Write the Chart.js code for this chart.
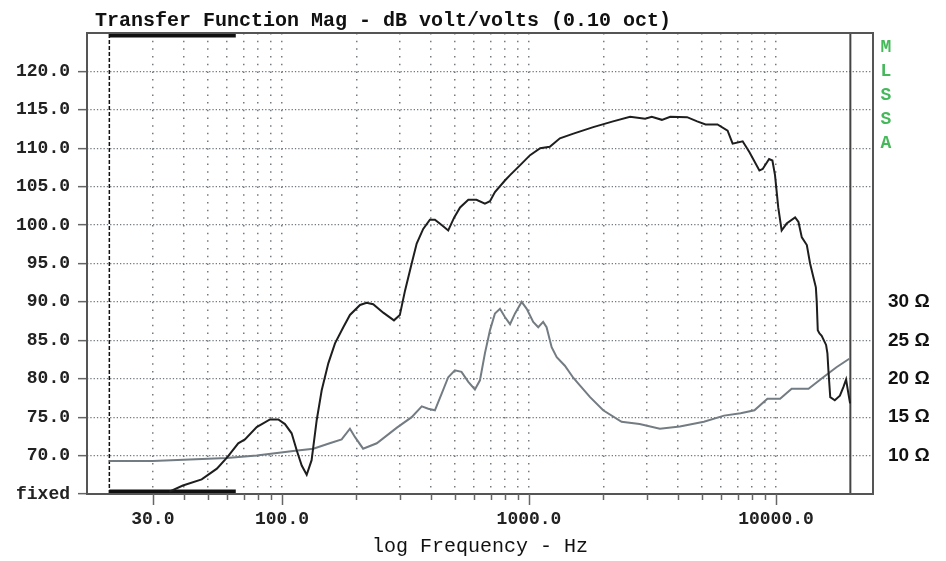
<!DOCTYPE html>
<html>

<head>
    <title>Transfer Function Mag</title>
    <style>
        body { margin: 0; background: #fff; }
        canvas { display: block; }
    </style>
</head>

<body>
    <canvas id="myChart" width="946" height="561"></canvas>
    <script src="https://cdn.jsdelivr.net/npm/chart.js@4.4.1/dist/chart.umd.min.js"></script>
    <script type="text/javascript">
        // transfer function magnitude (black), Hz / dB
        const splFreq = [35, 39.7, 47.3, 54.5, 60.1, 66.5, 70.8, 79, 89.4, 96.6, 102.8, 109.4, 114.7, 120.2, 125.9, 131.8,
            138.2, 144.8, 154, 163.9, 177.1, 188.4, 207, 220, 234, 257, 284, 300, 315, 335, 351, 373, 397, 416, 443, 471,
            498, 526, 568, 613, 663, 695, 728, 799, 838, 921, 1010, 1110, 1214, 1334, 1513, 1820, 2189, 2566, 2953, 3140,
            3451, 3733, 4366, 4796, 5187, 5795, 6368, 6675, 7328, 7800, 8565, 8832, 9377, 9670, 9908, 10211, 10540, 11043,
            11951, 12330, 12720, 13330, 13740, 14170, 14500, 14620, 14760, 15000, 15310, 15950, 16150, 16300, 16580, 17300,
            18140, 18740, 19220, 19630, 19950];
        const splDb = [65.3, 66.1, 66.9, 68.3, 69.8, 71.6, 72.1, 73.7, 74.7, 74.7, 74.1, 72.9, 70.7, 68.7, 67.5, 69.4,
            74.6, 78.5, 82.0, 84.6, 86.7, 88.3, 89.6, 89.9, 89.7, 88.6, 87.6, 88.3, 91.5, 95.0, 97.6, 99.5, 100.7, 100.7, 100.0, 99.3,
            101.0, 102.3, 103.3, 103.3, 102.8, 103.1, 104.3, 105.8, 106.5, 107.8, 109.1, 110.0, 110.2, 111.3, 111.9, 112.75, 113.5, 114.1, 113.85, 114.1,
            113.7, 114.1, 114.05, 113.5, 113.1, 113.1, 112.3, 110.6, 110.9, 109.5, 107.1, 107.3, 108.6, 108.4, 106.5, 102.3, 99.3, 100.2,
            101.0, 100.4, 98.4, 97.4, 95.0, 93.2, 91.9, 90.0, 86.3, 85.9, 85.6, 84.4, 83.3, 81.1, 77.6, 77.2,
            77.8, 78.9, 79.9, 78.1, 76.8];

        // impedance (grey), Hz / ohm
        const impFreq = [20, 30, 42.4, 59.7, 79, 111, 133.9, 156, 174.4, 188.4, 197.6, 213, 242, 291, 335, 368, 391, 416,
            443.5, 471, 501, 533, 568, 604, 633, 663, 695, 728, 763, 800, 838, 878, 934, 979, 1040, 1090, 1141, 1178,
            1235, 1295, 1397, 1513, 1610, 1767, 1997, 2370, 2804, 3387, 4079, 5105, 6160, 7190, 8180, 9230, 10390,
            11570, 13540, 15540, 17570, 19800];
        const impOhm = [9.3, 9.3, 9.5, 9.7, 10.0, 10.6, 10.9, 11.6, 12.1, 13.5, 12.4, 10.9, 11.6, 13.6, 15.0, 16.4, 16.1, 15.9,
            18.1, 20.2, 21.1, 20.9, 19.6, 18.6, 19.8, 23.3, 26.3, 28.5, 29.1, 28.0, 27.1, 28.5, 30.0, 29.1, 27.4, 26.7, 27.4, 26.7,
            24.1, 22.8, 21.7, 20.1, 19.1, 17.6, 15.9, 14.4, 14.1, 13.5, 13.8, 14.4, 15.2, 15.5, 15.9, 17.4, 17.4,
            18.7, 18.7, 20.2, 21.5, 22.6];

        // axes
        const xTicks = [30, 40, 50, 60, 70, 80, 90, 100, 200, 300, 400, 500, 600, 700, 800, 900,
            1000, 2000, 3000, 4000, 5000, 6000, 7000, 8000, 9000, 10000];
        const xLabelled = [30, 100, 1000, 10000];
        const dbTicks = [65, 70, 75, 80, 85, 90, 95, 100, 105, 110, 115, 120];
        const ohmTicks = [10, 15, 20, 25, 30];
        const fixedBand = [20, 65];   // Hz, the thick bars top and bottom
        const cursorFreq = 20;        // dashed line
        const endFreq = 20000;        // solid line

        const pts = (xs, ys) => xs.map((v, i) => ({ x: v, y: ys[i] }));
        const setTicks = vals => scale => { scale.ticks = vals.map(v => ({ value: v })); };

        const gridGrey = '#737b80';
        const monoBold = { family: '"Liberation Mono", "DejaVu Sans Mono", monospace', size: 18, weight: 'bold' };

        const decor = {
            id: 'decor',
            beforeDraw(chart) {
                const ctx = chart.ctx;
                ctx.save();
                ctx.fillStyle = '#fff';
                ctx.fillRect(0, 0, chart.width, chart.height);
                ctx.restore();
            },
            afterDraw(chart) {
                const { ctx, chartArea: a, scales } = chart;
                ctx.save();
                // frame
                ctx.strokeStyle = '#555';
                ctx.lineWidth = 2;
                ctx.strokeRect(a.left, a.top, a.right - a.left, a.bottom - a.top);
                // x tick marks
                ctx.strokeStyle = '#666';
                ctx.lineWidth = 1.5;
                scales.x.ticks.forEach(t => {
                    const px = Math.round(scales.x.getPixelForValue(t.value)) + 0.5;
                    const len = xLabelled.includes(t.value) ? 11 : 6;
                    ctx.beginPath();
                    ctx.moveTo(px, a.bottom);
                    ctx.lineTo(px, a.bottom + len);
                    ctx.stroke();
                });
                // title
                ctx.fillStyle = '#111';
                ctx.font = 'bold 20px "Liberation Mono", monospace';
                ctx.textBaseline = 'alphabetic';
                ctx.textAlign = 'left';
                ctx.fillText('Transfer Function Mag - dB volt/volts (0.10 oct)', 95, 26);
                // MLSSA
                ctx.fillStyle = '#45b85a';
                ctx.font = 'bold 18px "Liberation Mono", monospace';
                ctx.textAlign = 'center';
                ctx.textBaseline = 'middle';
                'MLSSA'.split('').forEach((c, i) => ctx.fillText(c, 886, 47 + i * 24.2));
                ctx.restore();
            }
        };

        const ctx = document.getElementById('myChart').getContext('2d');
        const chart = new Chart(ctx, {
            type: 'line',
            data: {
                datasets: [{
                    data: pts(splFreq, splDb),
                    borderColor: '#1e1e1e',
                    borderWidth: 2,
                    yAxisID: 'y'
                }, {
                    data: pts(impFreq, impOhm),
                    borderColor: '#737c82',
                    borderWidth: 2,
                    yAxisID: 'ohm'
                }, {
                    data: pts([cursorFreq, cursorFreq], [65, 125]),
                    borderColor: '#111',
                    borderWidth: 1.5,
                    borderDash: [4, 2],
                    yAxisID: 'y'
                }, {
                    data: pts([endFreq, endFreq], [65, 125]),
                    borderColor: '#444',
                    borderWidth: 2,
                    yAxisID: 'y'
                }, {
                    data: pts(fixedBand, [125, 125]),
                    borderColor: '#111',
                    borderWidth: 9,
                    borderCapStyle: 'butt',
                    clip: 0,
                    yAxisID: 'y'
                }, {
                    data: pts(fixedBand, [65, 65]),
                    borderColor: '#111',
                    borderWidth: 9,
                    borderCapStyle: 'butt',
                    clip: 0,
                    yAxisID: 'y'
                }]
            },
            options: {
                responsive: false,
                animation: false,
                devicePixelRatio: 1,
                layout: { padding: { top: 33, left: 0, right: 0, bottom: 0 } },
                elements: { point: { radius: 0 }, line: { tension: 0 } },
                plugins: { legend: { display: false }, tooltip: { enabled: false }, title: { display: false } },
                scales: {
                    x: {
                        type: 'logarithmic',
                        min: 16.24,
                        max: 24700,
                        afterBuildTicks: setTicks(xTicks),
                        afterFit: s => { s.height = 67; },
                        border: { display: false, dash: [1.5, 6.18] },
                        grid: {
                            color: gridGrey,
                            lineWidth: 1.5,
                            drawTicks: false
                        },
                        ticks: {
                            autoSkip: false,
                            maxRotation: 0,
                            padding: 15,
                            color: '#222',
                            font: monoBold,
                            callback: v => xLabelled.includes(v) ? v.toFixed(1) : ''
                        },
                        title: {
                            display: true,
                            text: 'log Frequency - Hz',
                            color: '#111',
                            font: { family: '"Liberation Mono", monospace', size: 20 },
                            padding: { top: 0, bottom: 2 }
                        }
                    },
                    y: {
                        position: 'left',
                        min: 65,
                        max: 125,
                        afterBuildTicks: setTicks(dbTicks),
                        afterFit: s => { s.width = 87; },
                        border: { display: false, dash: [1.3, 2] },
                        grid: {
                            color: ctx => ctx.tick && ctx.tick.value === 65 ? 'rgba(0,0,0,0)' : gridGrey,
                            lineWidth: 1.3,
                            tickLength: 9,
                            tickColor: '#666',
                            tickWidth: 1.5,
                            tickBorderDash: []
                        },
                        ticks: {
                            padding: 8,
                            color: '#222',
                            font: monoBold,
                            callback: v => v === 65 ? 'fixed' : v.toFixed(1)
                        }
                    },
                    ohm: {
                        position: 'right',
                        min: 5,
                        max: 65,
                        afterBuildTicks: setTicks(ohmTicks),
                        afterFit: s => { s.width = 73; },
                        border: { display: false },
                        grid: { drawOnChartArea: false, drawTicks: false },
                        ticks: {
                            padding: 15,
                            color: '#111',
                            font: { family: '"Liberation Sans", Arial, sans-serif', size: 19, weight: 'bold' },
                            callback: v => v + ' \u03A9'
                        }
                    }
                }
            },
            plugins: [decor]
        });
    </script>
</body>

</html>
